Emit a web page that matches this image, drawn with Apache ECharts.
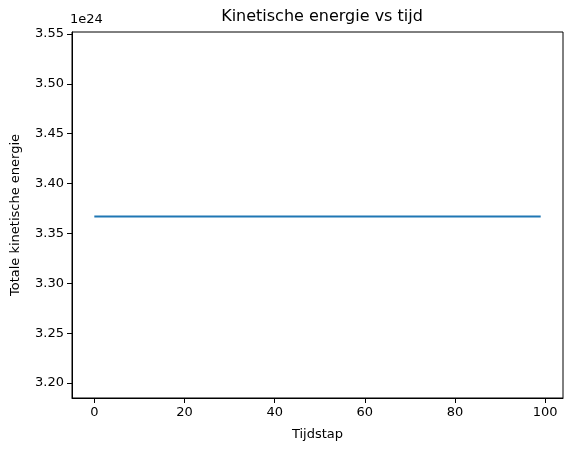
<!DOCTYPE html>
<html><head><meta charset="utf-8">
<script src="https://cdn.jsdelivr.net/npm/echarts@6/dist/echarts.min.js"></script>
<style>html,body{margin:0;padding:0;background:#fff}#c{width:575px;height:455px}</style>
</head><body><div id="c"></div>
<script>
// Tijdstap 0..99, energy in units of 1e24 (constant)
const tijdstap = [0,1,2,3,4,5,6,7,8,9,10,11,12,13,14,15,16,17,18,19,20,21,22,23,24,25,26,27,28,29,30,31,32,33,34,35,36,37,38,39,40,41,42,43,44,45,46,47,48,49,50,51,52,53,54,55,56,57,58,59,60,61,62,63,64,65,66,67,68,69,70,71,72,73,74,75,76,77,78,79,80,81,82,83,84,85,86,87,88,89,90,91,92,93,94,95,96,97,98,99];
const energie = [3.367,3.367,3.367,3.367,3.367,3.367,3.367,3.367,3.367,3.367,3.367,3.367,3.367,3.367,3.367,3.367,3.367,3.367,3.367,3.367,3.367,3.367,3.367,3.367,3.367,3.367,3.367,3.367,3.367,3.367,3.367,3.367,3.367,3.367,3.367,3.367,3.367,3.367,3.367,3.367,3.367,3.367,3.367,3.367,3.367,3.367,3.367,3.367,3.367,3.367,3.367,3.367,3.367,3.367,3.367,3.367,3.367,3.367,3.367,3.367,3.367,3.367,3.367,3.367,3.367,3.367,3.367,3.367,3.367,3.367,3.367,3.367,3.367,3.367,3.367,3.367,3.367,3.367,3.367,3.367,3.367,3.367,3.367,3.367,3.367,3.367,3.367,3.367,3.367,3.367,3.367,3.367,3.367,3.367,3.367,3.367,3.367,3.367,3.367,3.367];
const xTicks = [0,20,40,60,80,100];
const yTicks = [3.20,3.25,3.30,3.35,3.40,3.45,3.50,3.55];
const font = 'DejaVu Sans';
const chart = echarts.init(document.getElementById('c'));
chart.setOption({
  animation:false,
  textStyle:{fontFamily:font},
  title:{text:'Kinetische energie vs tijd',left:317,top:4,textAlign:'center',
    textStyle:{fontFamily:font,fontSize:16,fontWeight:'normal',color:'#000'}},
  graphic:[{type:'text',left:70,top:13,style:{text:'1e24',font:'13px DejaVu Sans',fill:'#000'}}],
  grid:{left:72,right:12,top:32,bottom:57,show:true,borderColor:'#000',borderWidth:1,backgroundColor:'transparent'},
  xAxis:{type:'value',min:-4.95,max:103.95,name:'Tijdstap',nameLocation:'middle',nameGap:30,
    nameTextStyle:{fontSize:13,color:'#000'},
    axisLine:{show:true,onZero:false,lineStyle:{color:'#000'}},splitLine:{show:false},
    axisTick:{show:true,inside:false,length:5,lineStyle:{color:'#000'},customValues:xTicks},
    axisLabel:{color:'#000',fontSize:13,margin:8,customValues:xTicks}},
  yAxis:{type:'value',min:3.185,max:3.552,name:'Totale kinetische energie',nameLocation:'middle',nameGap:50,
    nameTextStyle:{fontSize:13,color:'#000'},
    axisLine:{show:true,onZero:false,lineStyle:{color:'#000'}},splitLine:{show:false},
    axisTick:{show:true,inside:false,length:5,lineStyle:{color:'#000'},customValues:yTicks},
    axisLabel:{color:'#000',fontSize:13,margin:8,customValues:yTicks,formatter:v=>v.toFixed(2)}},
  series:[{type:'line',data:tijdstap.map((t,i)=>[t,energie[i]]),showSymbol:false,
    lineStyle:{color:'#1f77b4',width:2}}]
});
</script></body></html>
